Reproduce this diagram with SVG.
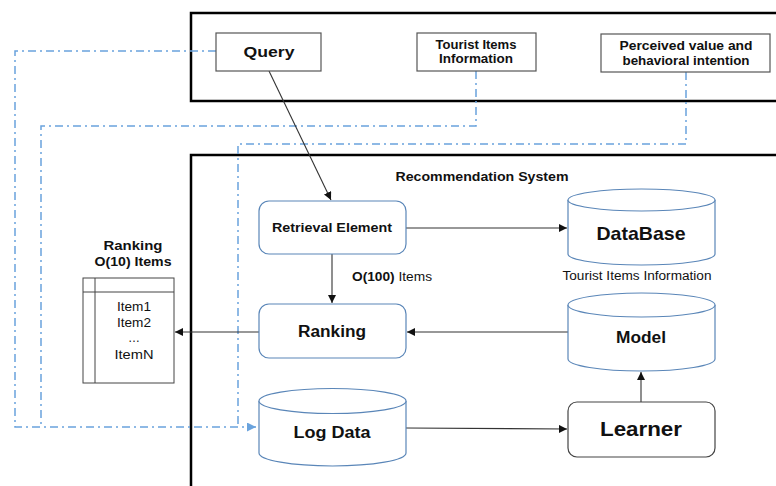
<svg xmlns="http://www.w3.org/2000/svg" width="776" height="486" viewBox="0 0 776 486">
<defs>
<style>
text{font-family:"Liberation Sans",Arial,sans-serif;fill:#111;text-anchor:middle;dominant-baseline:central}
.b{font-weight:bold}
.frame{fill:none;stroke:#000;stroke-width:2.5}
.gbox{fill:#fff;stroke:#555;stroke-width:1.2}
.bbox{fill:#fff;stroke:#5a86b8;stroke-width:1.2}
.cyl{fill:#fff;stroke:#5a86b8;stroke-width:1.2}
.ln{fill:none;stroke:#333;stroke-width:1.1}
.dd{fill:none;stroke:#6aa3dd;stroke-width:1.5;stroke-dasharray:8 4 2 4}
</style>
<marker id="ah" viewBox="0 0 10 10" refX="10" refY="5" markerWidth="8" markerHeight="8" markerUnits="userSpaceOnUse" orient="auto"><path d="M0,0 L10,5 L0,10 z" fill="#111"/></marker>
<marker id="bh" viewBox="0 0 10 10" refX="10" refY="5" markerWidth="9" markerHeight="9" markerUnits="userSpaceOnUse" orient="auto"><path d="M0,0 L10,5 L0,10 z" fill="#6aa3dd"/></marker>
</defs>
<rect width="776" height="486" fill="#fff"/>
<g id="frames">
<rect class="frame" x="191" y="13" width="600" height="88"/>
<rect class="frame" x="191" y="155" width="600" height="350"/>
<text class="b" x="482" y="176" font-size="13" textLength="173" lengthAdjust="spacingAndGlyphs">Recommendation System</text>
</g>
<g id="connectors">
<path class="dd" d="M216,51 H15 V427 H256" marker-end="url(#bh)"/>
<path class="dd" d="M476,71 V126 H41 V427"/>
<path class="dd" d="M686,72 V144 H238 V427"/>
<line class="ln" x1="269" y1="71" x2="331" y2="200" marker-end="url(#ah)"/>
<line class="ln" x1="406" y1="228" x2="567" y2="228" marker-end="url(#ah)"/>
<line class="ln" x1="332" y1="254" x2="332" y2="303" marker-end="url(#ah)"/>
<line class="ln" x1="568" y1="332" x2="407" y2="332" marker-end="url(#ah)"/>
<line class="ln" x1="259" y1="332" x2="175" y2="332" marker-end="url(#ah)"/>
<line class="ln" x1="406" y1="428" x2="567" y2="429" marker-end="url(#ah)"/>
<line class="ln" x1="641" y1="402" x2="641" y2="372" marker-end="url(#ah)"/>
<text x="392" y="277" font-size="12" textLength="80" lengthAdjust="spacingAndGlyphs"><tspan class="b">O(100)</tspan> Items</text>
</g>
<g id="query">
<rect class="gbox" x="216" y="33" width="105" height="38"/>
<text class="b" x="269" y="51" font-size="15" textLength="51" lengthAdjust="spacingAndGlyphs">Query</text>
</g>
<g id="tourist">
<rect class="gbox" x="417" y="33" width="119" height="38"/>
<text class="b" x="476" y="44.5" font-size="12" textLength="81" lengthAdjust="spacingAndGlyphs">Tourist Items</text>
<text class="b" x="476" y="59" font-size="12" textLength="74" lengthAdjust="spacingAndGlyphs">Information</text>
</g>
<g id="perceived">
<rect class="gbox" x="601" y="34" width="169" height="38"/>
<text class="b" x="686" y="45.5" font-size="12" textLength="133" lengthAdjust="spacingAndGlyphs">Perceived value and</text>
<text class="b" x="686" y="60.5" font-size="12" textLength="127" lengthAdjust="spacingAndGlyphs">behavioral intention</text>
</g>
<g id="retrieval">
<rect class="bbox" x="259" y="201" width="147" height="53" rx="10"/>
<text class="b" x="332" y="227" font-size="13" textLength="120" lengthAdjust="spacingAndGlyphs">Retrieval Element</text>
</g>
<g id="ranking">
<rect class="bbox" x="259" y="304" width="147" height="54" rx="10"/>
<text class="b" x="332" y="331" font-size="16" textLength="68" lengthAdjust="spacingAndGlyphs">Ranking</text>
</g>
<g id="database">
<path class="cyl" d="M568,200 V254 A73.5,11 0 0 0 715,254 V200"/>
<ellipse class="cyl" cx="641.5" cy="200" rx="73.5" ry="11"/>
<text class="b" x="641" y="233" font-size="19" textLength="89" lengthAdjust="spacingAndGlyphs">DataBase</text>
<text x="637" y="276" font-size="12" textLength="149" lengthAdjust="spacingAndGlyphs">Tourist Items Information</text>
</g>
<g id="model">
<path class="cyl" d="M568,305 V359 A73.5,12 0 0 0 715,359 V305"/>
<ellipse class="cyl" cx="641.5" cy="305" rx="73.5" ry="12"/>
<text class="b" x="641" y="337" font-size="17" textLength="50" lengthAdjust="spacingAndGlyphs">Model</text>
</g>
<g id="logdata">
<path class="cyl" d="M259,401 V453 A73.5,13 0 0 0 406,453 V401"/>
<ellipse class="cyl" cx="332.5" cy="401" rx="73.5" ry="12.5"/>
<text class="b" x="332" y="432" font-size="16" textLength="77" lengthAdjust="spacingAndGlyphs">Log Data</text>
</g>
<g id="learner">
<rect x="568" y="402" width="147" height="55" rx="9" fill="#fff" stroke="#444" stroke-width="1.2"/>
<text class="b" x="641" y="428" font-size="21" textLength="82" lengthAdjust="spacingAndGlyphs">Learner</text>
</g>
<g id="list">
<text class="b" x="133" y="245" font-size="13" textLength="59" lengthAdjust="spacingAndGlyphs">Ranking</text>
<text class="b" x="133" y="261" font-size="13" textLength="77" lengthAdjust="spacingAndGlyphs">O(10) Items</text>
<rect x="83" y="278" width="91" height="105" fill="#fff" stroke="#444" stroke-width="1"/>
<line x1="95" y1="278" x2="95" y2="383" stroke="#444" stroke-width="1"/>
<line x1="83" y1="292" x2="174" y2="292" stroke="#444" stroke-width="1"/>
<text x="134" y="307" font-size="12.5" textLength="34" lengthAdjust="spacingAndGlyphs">Item1</text>
<text x="134" y="323" font-size="12.5" textLength="34" lengthAdjust="spacingAndGlyphs">Item2</text>
<text x="134" y="338" font-size="12">…</text>
<text x="134" y="355" font-size="12.5" textLength="39" lengthAdjust="spacingAndGlyphs">ItemN</text>
</g>
</svg>
